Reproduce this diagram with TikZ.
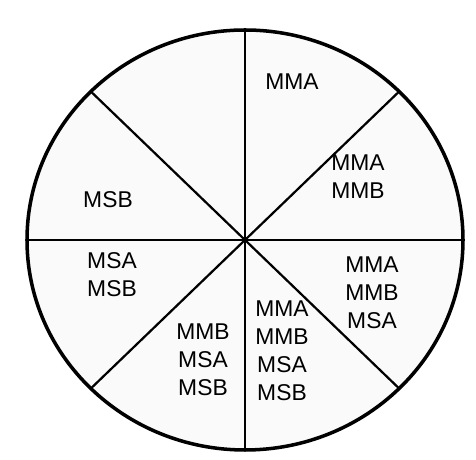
\documentclass[tikz,border=0pt]{standalone}
\usepackage{fontspec}
\setmainfont{Liberation Sans}
\usepackage{xcolor}
\usetikzlibrary{positioning}
\definecolor{PieFill}{HTML}{FAFAFA}

\begin{document}
\begin{tikzpicture}[
    ring/.style={draw=black,fill=PieFill,line width=3pt},
    spoke/.style={draw=black,line width=1.9pt},
    tag/.style={font=\fontsize{19.5pt}{24pt}\selectfont,align=center,inner sep=0pt}]

    \useasboundingbox (0,0) rectangle (14.28,13.8);

    \coordinate (o) at (7.35,6.6);
    \draw[ring] (o) ellipse [x radius=6.54cm, y radius=6.3cm];

    % spokes out to the rim
    \coordinate (n)  at (7.35,12.9);
    \coordinate (s)  at (7.35,0.3);
    \coordinate (e)  at (13.89,6.6);
    \coordinate (w)  at (0.81,6.6);
    \coordinate (ne) at (11.975,11.055);
    \coordinate (nw) at (2.725,11.055);
    \coordinate (se) at (11.975,2.145);
    \coordinate (sw) at (2.725,2.145);
    \foreach \rim in {n,s,e,w,ne,nw,se,sw}
      \draw[spoke] (o) -- (\rim);

    \node[tag] (mma) at (8.76,11.34) {MMA};
    \node[tag] (mmab) at (10.74,8.49) {MMA\\MMB};
    \node[tag] (mmabsa) at (11.16,5.01) {MMA\\MMB\\MSA};
    \node[tag] (all) at (8.46,3.27) {MMA\\MMB\\MSA\\MSB};
    \node[tag] (mmbsab) at (6.09,3.0) {MMB\\MSA\\MSB};
    \node[tag] (msab) at (3.36,5.55) {MSA\\MSB};
    \node[tag] (msb) at (3.24,7.8) {MSB};
  \end{tikzpicture}
\end{document}
